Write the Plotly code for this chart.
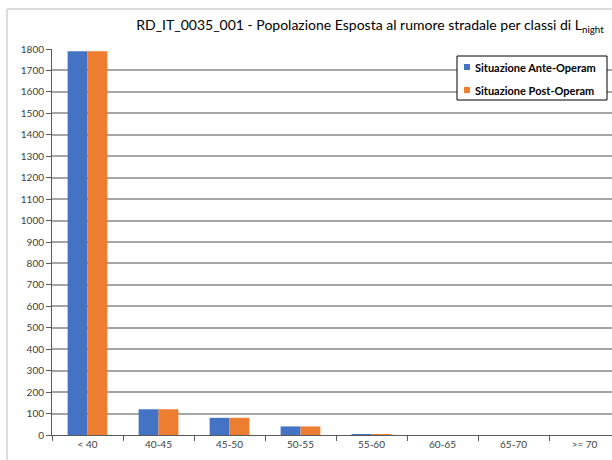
import plotly.graph_objects as go

# Noise exposure classes (Lnight, dB) and exposed population
classi = ["< 40", "40-45", "45-50", "50-55", "55-60", "60-65", "65-70", ">= 70"]
ante_operam = [1790, 120, 80, 40, 4, 0, 0, 0]
post_operam = [1790, 120, 80, 40, 4, 0, 0, 0]
serie = ["Situazione Ante-Operam", "Situazione Post-Operam"]
colori = ["#4472C4", "#ED7D31"]

W, H = 612, 460
L, R, T, B = 52, 0, 49, 25
pw, ph = W - L - R, H - T - B


def px(x):
    return (x - L) / pw


def py(y):
    return (H - B - y) / ph


FONT = "Lato, 'Open Sans', sans-serif"

fig = go.Figure()
for nome, valori, col in zip(serie, [ante_operam, post_operam], colori):
    fig.add_trace(go.Bar(x=classi, y=valori, name=nome, showlegend=False,
                         marker=dict(color=col, line=dict(width=0))))

# Boxed legend in the upper right corner of the plot area
shapes = [
    dict(type="rect", xref="paper", yref="paper",
         x0=px(457), x1=px(607), y0=py(56), y1=py(100),
         fillcolor="white", line=dict(color="#000000", width=1), layer="above"),
]
annotations = []
for i, (nome, col) in enumerate(zip(serie, colori)):
    yc = 67 + i * 23
    shapes.append(dict(type="rect", xref="paper", yref="paper",
                       x0=px(464), x1=px(470), y0=py(yc - 3), y1=py(yc + 3),
                       fillcolor=col, line=dict(width=0), layer="above"))
    annotations.append(dict(text=f"<b>{nome}</b>", xref="paper", yref="paper",
                            x=px(473), y=py(yc), xanchor="left", yanchor="middle",
                            showarrow=False,
                            font=dict(family=FONT, size=11, color="#000000")))

# Light chart-area frame
shapes += [
    dict(type="line", xref="paper", yref="paper",
         x0=px(7), x1=px(7), y0=py(9), y1=py(460),
         line=dict(color="#d0d0d0", width=1.5)),
    dict(type="line", xref="paper", yref="paper",
         x0=px(7), x1=px(612), y0=py(9), y1=py(9),
         line=dict(color="#d0d0d0", width=1.5)),
]

fig.update_layout(
    width=W, height=H, autosize=False,
    margin=dict(l=L, r=R, t=T, b=B, autoexpand=False),
    paper_bgcolor="white", plot_bgcolor="white",
    barmode="group", bargap=0.44, bargroupgap=0,
    font=dict(family=FONT, size=10, color="#404040"),
    title=dict(
        text="RD_IT_0035_001 - Popolazione Esposta al rumore stradale per classi di L<sub>night</sub>",
        xref="paper", x=px(370), xanchor="center", y=1 - 25 / H, yanchor="middle",
        font=dict(family=FONT, size=14, color="#000000"),
    ),
    xaxis=dict(
        type="category", range=[-0.5, 7.387], automargin=False,
        showline=True, linecolor="#595959", linewidth=1,
        ticks="outside", tickson="boundaries", ticklen=5, tickcolor="#595959",
        showgrid=False, tickfont=dict(size=10, color="#404040"),
    ),
    yaxis=dict(
        range=[0, 1800], dtick=100, automargin=False,
        showline=True, linecolor="#595959", linewidth=1,
        ticks="outside", ticklen=5, tickcolor="#595959",
        showgrid=True, gridcolor="#a6a6a6", gridwidth=1.5,
        zeroline=False, tickfont=dict(size=10, color="#404040"),
    ),
    shapes=shapes,
    annotations=annotations,
)

fig.write_html("out.html")
